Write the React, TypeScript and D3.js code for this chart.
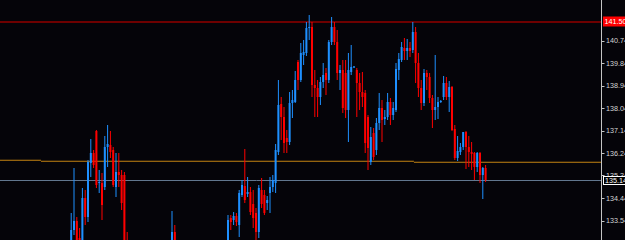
import React from 'react';
import * as d3 from 'd3';

const W = 625;
const H = 240;

const opens = [
  132.36, 133.16, 133.52, 132.84, 132.44, 134.44, 133.68, 135.84, 136.24, 137.12,
  135.04, 135.04, 134.88, 136.48, 136.56, 136.36, 134.88, 135.48, 135.36, 135.36,
  132.56, 131.96, 131.60, 131.40, 131.70, 131.90, 131.70, 131.30, 131.10, 131.40,
  131.60, 131.80, 131.60, 131.90, 132.10, 132.00, 132.16, 133.08, 132.36, 132.10,
  131.80, 131.60, 131.50, 131.70, 131.90, 131.80, 131.60, 131.70, 132.00, 131.90,
  132.10, 132.00, 132.20, 132.10, 132.30, 132.20, 132.44, 133.64, 133.56, 133.72,
  133.36, 134.56, 134.92, 134.60, 134.68, 134.20, 133.84, 133.08, 134.76, 134.56,
  134.24, 134.64, 134.88, 135.04, 136.28, 138.20, 137.68, 136.84, 136.68, 138.24,
  138.28, 139.88, 139.16, 140.16, 140.24, 141.24, 141.28, 138.96, 138.84, 138.48,
  139.08, 139.44, 139.16, 140.68, 141.28, 140.68, 139.44, 139.56, 139.44, 137.96,
  139.48, 139.66, 139.56, 139.04, 138.68, 138.64, 137.68, 135.88, 137.04, 136.36,
  137.44, 138.04, 137.60, 137.68, 138.28, 137.76, 137.96, 139.56, 139.96, 140.44,
  140.32, 140.44, 140.36, 141.08, 139.84, 138.84, 138.24, 139.44, 139.28, 138.44,
  137.96, 138.08, 138.28, 138.48, 139.04, 138.48, 138.88, 137.20, 136.04, 136.28,
  136.48, 137.08, 136.48, 136.28, 136.24, 135.68, 136.24, 135.36, 135.64,
];

const highs = [
  133.84, 135.64, 133.68, 133.24, 134.84, 134.76, 135.96, 136.80, 136.36, 137.16,
  135.56, 135.44, 136.92, 137.36, 137.12, 136.48, 136.24, 136.24, 135.56, 135.48,
  133.08, 132.20, 131.90, 131.80, 132.10, 132.30, 131.90, 131.60, 131.50, 131.80,
  132.00, 132.20, 132.00, 132.30, 132.40, 132.50, 133.92, 133.36, 132.60, 132.40,
  132.10, 131.90, 131.80, 132.00, 132.20, 132.00, 131.90, 132.10, 132.30, 132.20,
  132.40, 132.30, 132.50, 132.40, 132.60, 132.50, 133.76, 133.76, 133.88, 133.84,
  134.76, 135.16, 136.40, 135.28, 134.88, 134.76, 134.04, 134.96, 135.24, 134.76,
  134.52, 135.28, 135.36, 136.60, 139.16, 138.48, 138.08, 137.16, 138.68, 138.76,
  139.52, 139.96, 140.64, 140.76, 141.48, 141.76, 141.48, 139.56, 139.16, 139.28,
  139.84, 139.64, 140.76, 141.68, 141.48, 141.16, 139.76, 139.96, 139.96, 140.24,
  140.56, 139.72, 139.64, 139.44, 139.48, 138.76, 137.76, 137.28, 137.24, 137.64,
  138.64, 138.36, 137.96, 138.64, 138.44, 138.28, 139.84, 140.24, 140.68, 140.84,
  140.80, 140.68, 141.48, 141.28, 140.24, 139.16, 139.60, 139.56, 139.44, 138.56,
  140.16, 138.48, 138.36, 139.32, 139.28, 139.12, 138.92, 137.36, 136.92, 136.64,
  137.08, 137.12, 136.92, 136.68, 136.28, 136.28, 136.28, 135.68, 135.76,
];

const lows = [
  131.96, 132.96, 132.16, 132.16, 132.28, 133.36, 133.48, 135.28, 135.64, 134.84,
  134.64, 133.56, 134.76, 135.68, 136.04, 134.88, 134.48, 134.88, 133.96, 132.16,
  131.76, 131.40, 131.20, 131.00, 131.50, 131.60, 131.20, 130.90, 130.80, 131.20,
  131.40, 131.50, 131.30, 131.70, 131.80, 131.80, 131.96, 132.04, 131.90, 131.70,
  131.40, 131.20, 131.10, 131.40, 131.60, 131.40, 131.30, 131.50, 131.70, 131.60,
  131.80, 131.70, 131.90, 131.80, 132.00, 131.90, 132.28, 133.16, 133.36, 133.32,
  132.88, 134.48, 134.24, 134.48, 133.76, 133.24, 132.76, 132.84, 134.04, 133.76,
  133.96, 133.84, 134.68, 134.64, 136.16, 136.76, 136.24, 136.24, 136.56, 137.64,
  138.24, 138.76, 139.08, 139.76, 140.12, 140.76, 138.48, 137.68, 137.68, 138.16,
  138.84, 138.56, 139.04, 140.56, 140.56, 139.16, 138.76, 137.84, 137.64, 136.68,
  139.36, 139.64, 137.68, 137.96, 138.08, 136.24, 135.56, 135.76, 135.96, 136.16,
  137.16, 136.68, 137.36, 137.56, 137.36, 137.56, 137.88, 139.16, 139.88, 139.96,
  139.96, 140.08, 140.24, 139.04, 138.48, 137.96, 138.12, 138.76, 138.24, 137.24,
  137.56, 137.60, 138.24, 138.36, 138.36, 137.88, 137.12, 135.96, 135.92, 136.16,
  136.36, 135.60, 135.68, 135.56, 135.16, 135.48, 135.04, 134.40, 135.08,
];

const closes = [
  133.16, 133.52, 132.36, 132.36, 134.44, 133.68, 135.88, 136.24, 135.76, 134.96,
  135.08, 134.16, 136.48, 136.60, 136.28, 134.96, 135.48, 135.36, 134.24, 132.36,
  131.96, 131.60, 131.40, 131.70, 131.90, 131.70, 131.30, 131.10, 131.40, 131.60,
  131.80, 131.60, 131.90, 132.10, 132.00, 132.30, 133.08, 132.36, 132.10, 131.80,
  131.60, 131.50, 131.70, 131.90, 131.80, 131.60, 131.70, 132.00, 131.90, 132.10,
  132.00, 132.20, 132.10, 132.30, 132.20, 132.44, 133.56, 133.48, 133.72, 133.48,
  134.64, 134.96, 134.36, 134.68, 133.88, 133.64, 133.08, 134.84, 134.20, 133.84,
  134.36, 134.88, 135.16, 136.36, 138.16, 137.68, 136.64, 136.68, 138.24, 138.36,
  139.16, 139.16, 140.24, 140.28, 141.24, 141.28, 138.96, 138.84, 138.48, 139.08,
  139.36, 139.16, 140.68, 141.28, 140.68, 139.44, 139.56, 138.04, 137.96, 139.56,
  139.68, 139.70, 139.04, 138.68, 138.48, 136.64, 136.44, 136.88, 136.08, 137.44,
  138.04, 137.56, 137.68, 138.28, 137.76, 138.04, 139.60, 140.00, 140.48, 140.32,
  140.44, 140.32, 141.08, 139.84, 138.84, 138.24, 139.44, 139.28, 138.44, 137.96,
  138.08, 138.28, 138.32, 139.04, 138.48, 138.88, 137.16, 136.04, 136.32, 136.48,
  137.08, 136.48, 136.28, 136.20, 135.68, 136.24, 135.36, 135.64, 135.16,
];

const tickLabels = ['140.74', '139.84', '138.94', '138.04', '137.14', '136.24', '135.34', '134.44', '133.54', '132.64'];
const resistanceLevel = 141.5;
const lastPrice = 135.14;
const pivotLevels = [135.95, 135.91, 135.87];
const pivotBreaks = [-26, -10.8, 122.4, 190];

const BG = '#050409';
const UP = '#1e90ff';
const DOWN = '#ff0000';
const AXIS = '#c4c4c4';
const FONT = '"Liberation Sans", Arial, sans-serif';
const FS = 7.2;

export default function App() {
  const x = d3.scaleLinear().domain([0, opens.length - 1]).range([71.2, 485.6]);
  const y = d3.scaleLinear().domain([142.36, 132.76]).range([0, H]);
  const axisX = 601.5;

  const candles = opens.map((o, i) => {
    const c = closes[i];
    const up = c >= o;
    const top = y(Math.max(o, c));
    const bot = y(Math.min(o, c));
    const cx = x(i);
    const col = up ? UP : DOWN;
    return (
      <g key={i}>
        <rect x={cx - 0.5} y={y(highs[i])} width={1} height={Math.max(1, y(lows[i]) - y(highs[i]))} fill={col} />
        <rect x={cx - 1} y={top} width={2} height={Math.max(1, bot - top)} fill={col} />
      </g>
    );
  });

  const yr = y(resistanceLevel);
  const yl = y(lastPrice);

  return (
    <svg width={W} height={H} style={{ position: 'absolute', left: 0, top: 0, display: 'block' }}>
      <rect x={0} y={0} width={W} height={H} fill={BG} />
      <line x1={0} x2={axisX} y1={yr + 0.5} y2={yr + 0.5} stroke="#6e0000" strokeWidth={2.2} />
      {pivotLevels.map((lv, k) => (
        <line key={k} x1={Math.max(0, x(pivotBreaks[k]))} x2={Math.min(axisX, x(pivotBreaks[k + 1]))}
          y1={y(lv)} y2={y(lv)} stroke="#c48212" strokeWidth={1} />
      ))}
      <line x1={0} x2={axisX} y1={yl} y2={yl} stroke="#62778f" strokeWidth={1} />
      <g>{candles}</g>
      <line x1={axisX} x2={axisX} y1={0} y2={H} stroke={AXIS} strokeWidth={1} />
      {tickLabels.map((t) => {
        const ty = y(+t);
        return (
          <g key={t}>
            <line x1={axisX + 0.5} x2={axisX + 3} y1={Math.round(ty) + 0.5} y2={Math.round(ty) + 0.5} stroke={AXIS} strokeWidth={1} />
            <text x={606} y={ty} dy="0.35em" fontSize={FS} fontFamily={FONT} fill="#d4d4d4">{t}</text>
          </g>
        );
      })}
      <rect x={603} y={yr - 5} width={24} height={10} fill="#ff0000" />
      <text x={604.5} y={yr} dy="0.36em" fontSize={FS} fontFamily={FONT} fill="#ffffff">{resistanceLevel.toFixed(2)}</text>
      <rect x={603.5} y={yl - 4} width={24} height={8} fill="#000000" stroke="#ffffff" strokeWidth={1} />
      <text x={605} y={yl} dy="0.36em" fontSize={FS} fontFamily={FONT} fill="#ffffff">{lastPrice.toFixed(2)}</text>
    </svg>
  );
}
